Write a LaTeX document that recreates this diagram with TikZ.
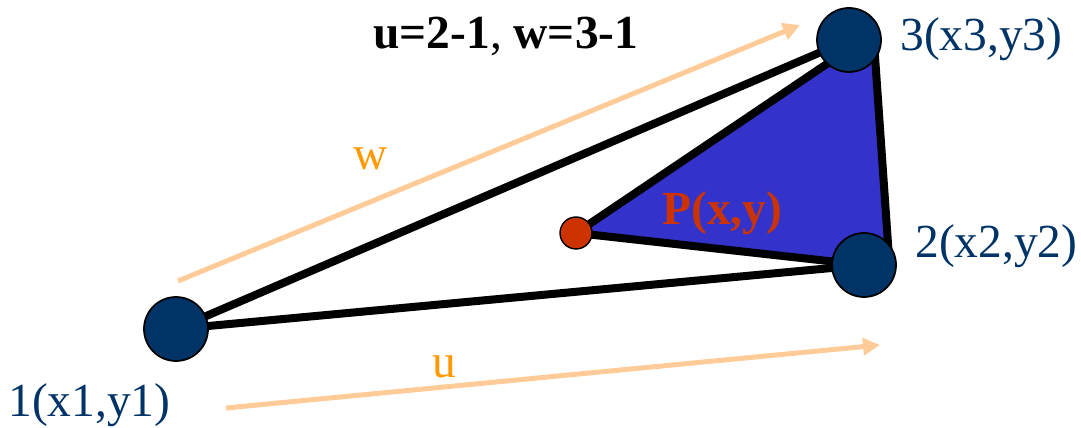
\documentclass[tikz,border=0pt]{standalone}
\usepackage{fontspec}
\setmainfont{Liberation Serif}
\usetikzlibrary{arrows.meta}
\definecolor{navy}{HTML}{003366}
\definecolor{triblue}{HTML}{3333CC}
\definecolor{pred}{HTML}{CC3300}
\definecolor{peach}{HTML}{FFCC99}
\definecolor{orangetxt}{HTML}{FF9900}
\tikzset{
  vertex/.style={circle,draw=black,line width=1pt,fill=navy,minimum size=1.28cm,inner sep=0pt},
  pvertex/.style={circle,draw=black,line width=0.8pt,fill=pred,minimum size=0.64cm,inner sep=0pt},
  edge/.style={line width=0.16cm,line join=round},
  vec/.style={peach,line width=0.1cm,-{Triangle[length=0.34cm,width=0.34cm]}},
  lbl/.style={inner sep=0pt,anchor=base west,font=\fontsize{27}{32}\selectfont},
}
\begin{document}
\begin{tikzpicture}[x=0.02cm,y=-0.02cm]
\useasboundingbox (0,0) rectangle (1081,428);
\coordinate (c1) at (176,329);
\coordinate (c2) at (864,265);
\coordinate (c3) at (849,40);
\coordinate (cp) at (576,233);
\coordinate (p3) at (846,51);
\coordinate (r3) at (874,42);
\coordinate (r2) at (889,258);
\coordinate (ws) at (178,281);
\coordinate (we) at (800,25);
\coordinate (us) at (226,408);
\coordinate (ue) at (880,345);
% arrows
\draw[vec] (ws) -- (we);
\draw[vec] (us) -- (ue);
% triangle
\fill[triblue] (cp) -- (p3) -- (c3) -- (r3) -- (r2) -- (c2) -- cycle;
\draw[edge] (cp) -- (p3);
\draw[edge] (r3) -- (r2);
\draw[edge] (cp) -- (c2);
\draw[edge] (c1) -- (c3);
\draw[edge] (c1) -- (c2);
% vertices
\node[vertex] (n1) at (c1) {};
\node[vertex] (n2) at (c2) {};
\node[vertex] (n3) at (c3) {};
\node[pvertex] (np) at (cp) {};
% labels
\node[lbl,text=navy] (l1) at (8,417) {1(x1,y1)};
\node[lbl,text=navy] (l2) at (915,258) {2(x2,y2)};
\node[lbl,text=navy] (l3) at (900,51) {3(x3,y3)};
\node[lbl,text=pred] (lp) at (662,225) {\bfseries P(x,y)};
\node[lbl] (lt) at (373,49) {\bfseries u=2-1\mdseries, \bfseries w=3-1};
\node[lbl,text=orangetxt] (lw) at (353,170) {w};
\node[lbl,text=orangetxt] (lu) at (432,378) {u};
\end{tikzpicture}
\end{document}
